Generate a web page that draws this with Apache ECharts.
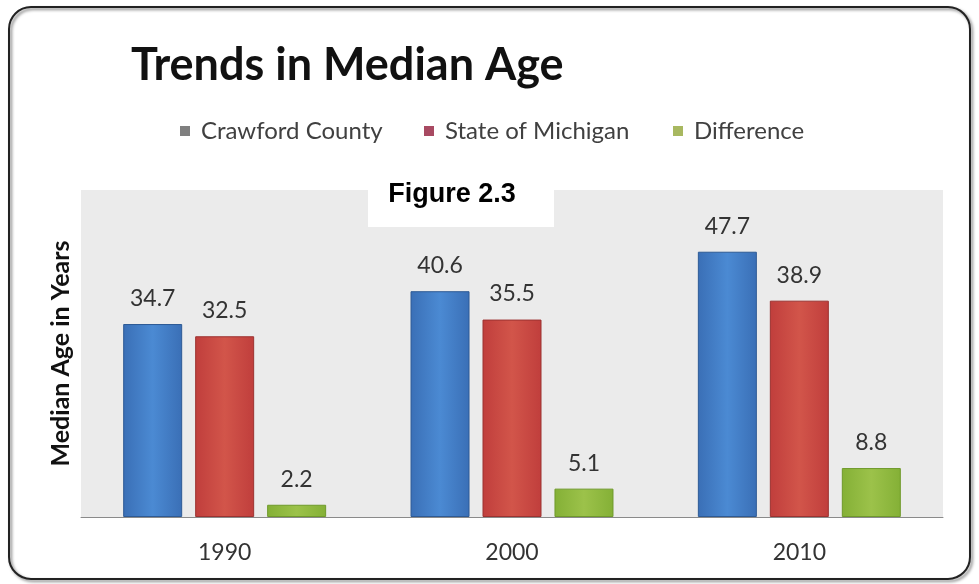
<!DOCTYPE html>
<html>
<head>
<meta charset="utf-8">
<script src="https://cdn.jsdelivr.net/npm/echarts@6/dist/echarts.min.js"></script>
<style>html,body{margin:0;padding:0;background:#fff}#c{width:979px;height:584px}</style>
</head>
<body>
<div id="c"></div>
<script>
const categories = ['1990', '2000', '2010'];
const crawfordCounty = [34.7, 40.6, 47.7];
const stateOfMichigan = [32.5, 35.5, 38.9];
const difference = [2.2, 5.1, 8.8];
const seriesNames = ['Crawford County', 'State of Michigan', 'Difference'];

function grad(edge, mid) {
  return new echarts.graphic.LinearGradient(0, 0, 1, 0, [
    {offset: 0, color: edge}, {offset: 0.5, color: mid}, {offset: 1, color: edge}
  ]);
}
const labelStyle = {show: true, position: 'top', distance: 14, fontFamily: 'Lato', fontSize: 23, color: '#333'};
const legendIconColors = ['#7f7f7f', '#a84a62', '#a8b860'];
const legendLefts = [175, 419, 668];

const chart = echarts.init(document.getElementById('c'), null, {renderer: 'canvas'});
chart.setOption({
  backgroundColor: '#fff',
  animation: false,
  title: {
    text: 'Trends in Median Age', left: 126, top: 38,
    textStyle: {fontFamily: 'Lato', fontWeight: 'bold', fontSize: 45, color: '#111'}
  },
  legend: seriesNames.map((n, i) => ({
    left: legendLefts[i], top: 114, icon: 'rect', itemWidth: 10, itemHeight: 10,
    textStyle: {fontFamily: 'Lato', fontSize: 24, color: '#404040', padding: [0, 0, 0, 6]},
    itemStyle: {color: legendIconColors[i], borderWidth: 0},
    data: [n]
  })),
  grid: {left: 81, right: 36, top: 190, bottom: 67, show: true, backgroundColor: '#ebebeb', borderWidth: 0},
  xAxis: {
    type: 'category', data: categories,
    axisLine: {lineStyle: {color: '#8a8a8a', width: 1}},
    axisTick: {show: false},
    axisLabel: {fontFamily: 'Lato', fontSize: 23, color: '#333', margin: 24}
  },
  yAxis: {
    type: 'value', min: 0, max: 58.8,
    name: 'Median Age in Years', nameLocation: 'middle', nameGap: 8,
    nameTextStyle: {fontFamily: 'Lato', fontWeight: 'bold', fontSize: 25, color: '#111'},
    axisLine: {show: false}, axisTick: {show: false}, axisLabel: {show: false}, splitLine: {show: false}
  },
  series: [
    {name: seriesNames[0], type: 'bar', data: crawfordCounty, barWidth: 59, barGap: '22%',
     itemStyle: {color: grad('#3a6fb6', '#4b8ad3'), borderColor: '#2d5a95', borderWidth: 1}, label: labelStyle},
    {name: seriesNames[1], type: 'bar', data: stateOfMichigan, barWidth: 59, barGap: '22%',
     itemStyle: {color: grad('#c03e3c', '#d2554a'), borderColor: '#9c3230', borderWidth: 1}, label: labelStyle},
    {name: seriesNames[2], type: 'bar', data: difference, barWidth: 59, barGap: '22%',
     itemStyle: {color: grad('#84b036', '#9cc24a'), borderColor: '#6f9a2a', borderWidth: 1}, label: labelStyle}
  ],
  graphic: [
    {type: 'rect', z: 100, shape: {x: 368, y: 176, width: 186, height: 51}, style: {fill: '#fff'}},
    {type: 'text', z: 101, x: 452, y: 195, style: {text: 'Figure 2.3', fontFamily: 'Liberation Sans', fontWeight: 'bold', fontSize: 27, fill: '#000', align: 'center', verticalAlign: 'middle'}},
    {type: 'rect', z: 100, shape: {x: 9, y: 7, width: 961, height: 572, r: 22},
     style: {fill: 'none', stroke: '#222', lineWidth: 2, shadowBlur: 3, shadowOffsetX: 2, shadowOffsetY: 2, shadowColor: 'rgba(0,0,0,0.5)'}}
  ]
});
</script>
</body>
</html>
